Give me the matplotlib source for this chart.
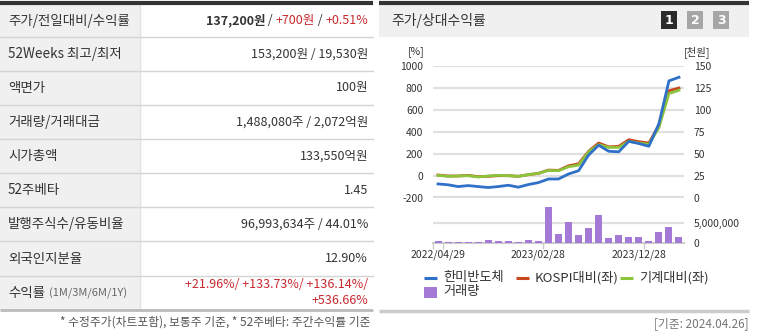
import matplotlib
matplotlib.use("Agg")
import matplotlib.pyplot as plt
from matplotlib.patches import Rectangle

plt.rcParams['font.family'] = ['Noto Sans CJK KR', 'DejaVu Sans']

# ---- data ----
months = [f"{y}/{m:02d}" for y, m in
          [(2022, m) for m in range(4, 13)] + [(2023, m) for m in range(1, 13)] + [(2024, m) for m in range(1, 5)]]
tick_idx = [0, 10, 20]
tick_labels = ['2022/04/29', '2023/02/28', '2023/12/28']

# 한미반도체 price, 천원 (right axis)
price = [16.0, 15.0, 13.0, 14.1, 13.0, 11.9, 13.0, 14.5, 12.3, 15.3, 17.5, 21.6, 21.6,
         27.3, 31.0, 48.8, 60.0, 53.1, 52.5, 64.4, 61.9, 58.8, 84.4, 133.1, 137.2]
# relative returns, % (left axis)
kospi_rel = [9, 0, 0, 6, -6, -3, 3, 3, -3, 12, 24, 54, 51,
             93, 111, 225, 300, 265, 270, 330, 312, 300, 460, 775, 800]
mach_rel = [6, -3, 0, 3, -9, 0, 6, 3, -3, 12, 24, 51, 48,
            84, 99, 220, 285, 260, 260, 315, 300, 288, 440, 750, 780]
# volume, shares
volume = [0.6e6, 0.3e6, 0.3e6, 0.3e6, 0.3e6, 0.8e6, 0.4e6, 0.6e6, 0.3e6, 0.8e6, 0.6e6, 9.0e6, 2.2e6,
          5.4e6, 2.1e6, 3.8e6, 7.1e6, 1.3e6, 2.1e6, 1.6e6, 1.6e6, 0.6e6, 2.7e6, 4.1e6, 1.6e6]

table_labels = ['주가/전일대비/수익률', '52Weeks 최고/최저', '액면가', '거래량/거래대금',
                '시가총액', '52주베타', '발행주식수/유동비율', '외국인지분율', '수익률']
RED = '#c8282e'
DARK = '#333333'

W, H = 760, 336
fig = plt.figure(figsize=(W / 100, H / 100), dpi=100)
fig.patch.set_facecolor('white')


def box(x0, y0, x1, y1):
    return [x0 / W, 1 - y1 / H, (x1 - x0) / W, (y1 - y0) / H]


bg = fig.add_axes([0, 0, 1, 1])
bg.set_xlim(0, W)
bg.set_ylim(H, 0)
bg.axis('off')
renderer = fig.canvas.get_renderer()


def parts_right(x, y, parts, size=9):
    for s, color, weight in reversed(parts):
        t = bg.text(x, y, s, ha='right', va='center', color=color, fontsize=size, fontweight=weight)
        x -= t.get_window_extent(renderer).width


# ---------- left table ----------
seps = [37, 71, 105, 139, 173, 207, 241, 276]
bg.add_patch(Rectangle((0, 4), 140, 306, color='#f0f0f0', lw=0))
bg.plot([140, 140], [4, 310], color='#e2e2e2', lw=1)
bg.plot([0, 373], [2.5, 2.5], color='#333333', lw=3, solid_capstyle='butt')
for s in seps:
    bg.plot([0, 373], [s, s], color='#d4d4d4', lw=1)
bg.plot([0, 373], [310, 310], color='#bbbbbb', lw=2, solid_capstyle='butt')

bounds = [4] + seps + [310]
centers = [(a + b) / 2 for a, b in zip(bounds[:-1], bounds[1:])]
for lab, cy in zip(table_labels[:-1], centers[:-1]):
    bg.text(8, cy, lab, ha='left', va='center', fontsize=9.7, color=DARK)
t = bg.text(8, centers[-1], table_labels[-1], ha='left', va='center', fontsize=9.7, color=DARK)
x_after = 8 + t.get_window_extent(renderer).width
bg.text(x_after + 4, centers[-1], '(1M/3M/6M/1Y)', ha='left', va='center', fontsize=8, color='#666666')

VX = 368
parts_right(VX, centers[0], [('137,200원', DARK, 'bold'), (' / ', DARK, 'normal'),
                             ('+700원', RED, 'normal'), (' / ', DARK, 'normal'), ('+0.51%', RED, 'normal')])
plain_vals = ['153,200원 / 19,530원', '100원', '1,488,080주 / 2,072억원', '133,550억원',
              '1.45', '96,993,634주 / 44.01%', '12.90%']
for v, cy in zip(plain_vals, centers[1:8]):
    bg.text(VX, cy, v, ha='right', va='center', fontsize=9, color=DARK)
bg.text(VX, centers[8] - 8, '+21.96%/ +133.73%/ +136.14%/', ha='right', va='center', fontsize=9, color=RED)
bg.text(VX, centers[8] + 8, '+536.66%', ha='right', va='center', fontsize=9, color=RED)
bg.text(370, 322, '* 수정주가(차트포함), 보통주 기준, * 52주베타: 주간수익률 기준',
        ha='right', va='center', fontsize=8.5, color='#555555')

# ---------- right panel frame ----------
bg.add_patch(Rectangle((379, 4), 370, 33, color='#f0f0f0', lw=0))
bg.plot([379, 749], [2.5, 2.5], color='#333333', lw=3, solid_capstyle='butt')
bg.text(391, 20.5, '주가/상대수익률', ha='left', va='center', fontsize=10, color=DARK)
for i, (bx, fc) in enumerate([(661, '#2b2b2b'), (687, '#a6a6a6'), (713, '#a6a6a6')]):
    bg.add_patch(Rectangle((bx, 11), 16, 18, color=fc, lw=0))
    bg.text(bx + 8, 20.5, str(i + 1), ha='center', va='center', fontsize=9,
            fontweight='bold', color='white', family='DejaVu Sans')
bg.plot([379, 749], [311, 311], color='#cccccc', lw=2.5, solid_capstyle='butt')
bg.text(749, 324, '[기준: 2024.04.26]', ha='right', va='center', fontsize=8.5, color='#777777')

# ---------- chart ----------
BLUE, ORANGE, GREEN, PURPLE = '#2f70c8', '#c9471d', '#8cc43c', '#a57ad6'
x = list(range(len(months)))

ax = fig.add_axes(box(433, 66, 684, 198))
ax.set_facecolor('none')
ax.set_xlim(-0.5, len(months) - 0.5)
ax.set_ylim(-200, 1000)
ax.set_yticks(range(-200, 1001, 200))
ax.set_yticklabels([str(v) for v in range(-200, 1001, 200)])
ax.grid(axis='y', color='#e0e0e0', lw=1.6)
ax.set_xticks([])
for sp in ax.spines.values():
    sp.set_visible(False)
ax.tick_params(axis='y', length=0, pad=7, labelsize=7.5, labelcolor=DARK)
ax.plot(x, kospi_rel, color=ORANGE, lw=2, zorder=3)
ax.plot(x, mach_rel, color=GREEN, lw=2, zorder=4)
ax.axhline(-200, color='#dcdcdc', lw=3, zorder=1)

axr = ax.twinx()
axr.set_ylim(0, 150)
axr.set_yticks(range(0, 151, 25))
for sp in axr.spines.values():
    sp.set_visible(False)
axr.tick_params(axis='y', length=0, pad=7, labelsize=7.5, labelcolor=DARK)
axr.plot(x, price, color=BLUE, lw=2, zorder=5)

bg.text(425, 52, '[%]', ha='right', va='center', fontsize=7.5, color=DARK)
bg.text(684, 52, '[천원]', ha='left', va='center', fontsize=7.5, color=DARK)

axv = fig.add_axes(box(433, 201, 684, 243))
axv.set_facecolor('none')
axv.set_xlim(-0.5, len(months) - 0.5)
axv.set_ylim(0, 10.6e6)
axv.bar(x, volume, width=0.7, color=PURPLE, zorder=3)
axv.axhline(5e6, color='#e0e0e0', lw=1.6, zorder=1)
for sp in ['top', 'left', 'right']:
    axv.spines[sp].set_visible(False)
axv.spines['bottom'].set_color('#cccccc')
axv.spines['bottom'].set_linewidth(1.5)
axv.yaxis.tick_right()
axv.set_yticks([0, 5e6])
axv.set_yticklabels(['0', '5,000,000'])
axv.tick_params(axis='y', length=0, pad=7, labelsize=7.5, labelcolor=DARK)
axv.set_xticks(tick_idx)
axv.set_xticklabels(tick_labels)
axv.set_xticks([-0.5, 0.5, 10.5, 20.5], minor=True)
axv.tick_params(axis='x', which='major', length=0, pad=5, labelsize=7.5, labelcolor=DARK)
axv.tick_params(axis='x', which='minor', length=4, color='#cccccc', width=1)

# ---------- legend ----------
leg = [(424, 278, BLUE, '한미반도체'), (516, 278, ORANGE, 'KOSPI대비(좌)'), (620, 278, GREEN, '기계대비(좌)')]
for lx, ly, c, s in leg:
    bg.plot([lx, lx + 13], [ly, ly], color=c, lw=2.2, solid_capstyle='butt')
    bg.text(lx + 19, ly, s, ha='left', va='center', fontsize=9.5, color=DARK)
bg.add_patch(Rectangle((424, 287), 13, 11, color=PURPLE, lw=0))
bg.text(443, 292, '거래량', ha='left', va='center', fontsize=9.5, color=DARK)

fig.savefig('out.png', dpi=100, facecolor='white')
